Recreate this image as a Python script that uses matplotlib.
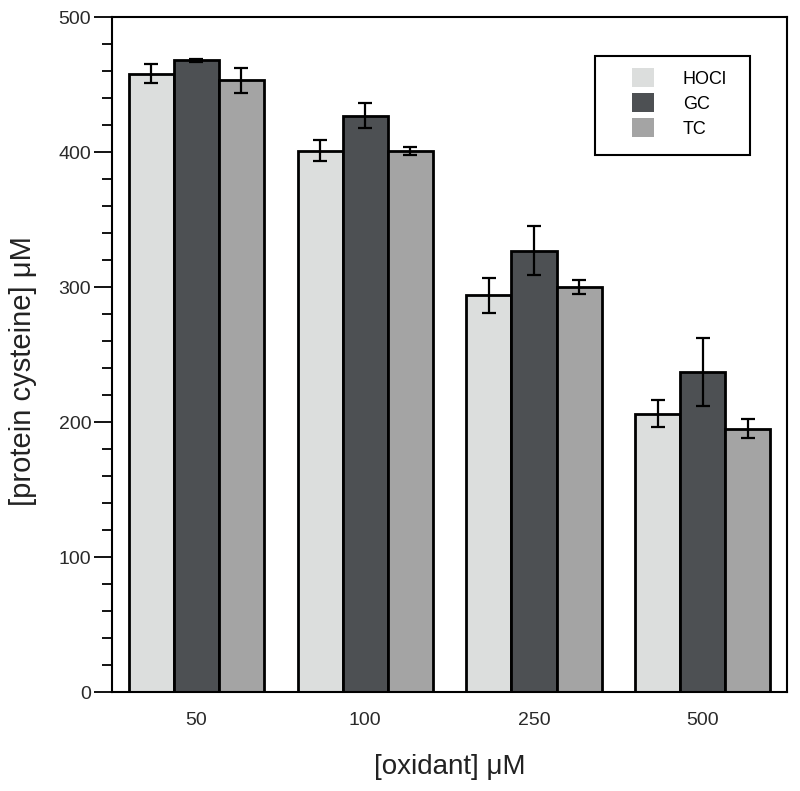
import numpy as np
import matplotlib.pyplot as plt
from matplotlib.patches import Patch, Rectangle
from matplotlib.ticker import MultipleLocator

plt.rcParams['font.family'] = ['Liberation Sans', 'DejaVu Sans']

# data
oxidant = ["50", "100", "250", "500"]
series = ["HOCl", "GC", "TC"]
hocl = [458, 401, 294, 206]
gc = [468, 427, 327, 237]
tc = [453, 401, 300, 195]
hocl_err = [7, 8, 13, 10]
gc_err = [1, 9, 18, 25]
tc_err = [9, 3, 5, 7]

colors = ["#dcdedd", "#4d5053", "#a4a4a4"]

fig = plt.figure(figsize=(8, 7.91), dpi=100)
ax = fig.add_axes([0.14, 0.125, 0.844, 0.8535])

x = np.arange(len(oxidant)) + 0.5
w = 0.267
values = [hocl, gc, tc]
errors = [hocl_err, gc_err, tc_err]
for i in range(3):
    ax.bar(x + (i - 1) * w, values[i], w, color=colors[i], edgecolor="black",
           linewidth=2, zorder=2)
    ax.errorbar(x + (i - 1) * w, values[i], yerr=errors[i], fmt="none",
                ecolor="black", elinewidth=1.6, capsize=5, capthick=1.6, zorder=3)

ax.set_xlim(0, 4)
ax.set_ylim(0, 500)
ax.set_xticks(x)
ax.set_xticklabels(oxidant)
ax.tick_params(axis="x", length=0, pad=14, labelsize=14, labelcolor="#2a2a2a")
ax.yaxis.set_major_locator(MultipleLocator(100))
ax.yaxis.set_minor_locator(MultipleLocator(20))
ax.tick_params(axis="y", which="major", length=13, width=1.3, labelsize=14,
               labelcolor="#2a2a2a", pad=2)
ax.tick_params(axis="y", which="minor", length=7, width=1.3)
for s in ax.spines.values():
    s.set_linewidth(1.5)

ax.set_xlabel("[oxidant] \u03bcM", fontsize=20, labelpad=18, color="#222222")
ax.set_ylabel("[protein cysteine] \u03bcM", fontsize=21, color="#222222")
ax.yaxis.set_label_coords(-0.111, 0.475)

# legend frame drawn separately so the padding can be uneven like the original
ax.add_patch(Rectangle((0.7156, 0.7956), 0.229, 0.1464, transform=ax.transAxes,
                       facecolor="white", edgecolor="black", linewidth=1.5,
                       zorder=4))
handles = [Patch(facecolor=c, edgecolor="none") for c in colors]
leg = ax.legend(handles, series, loc="upper left",
                bbox_to_anchor=(0.770, 0.924), fontsize=13, frameon=False,
                handlelength=1.22, handleheight=1.22, handletextpad=1.6,
                labelspacing=0.3, borderpad=0, borderaxespad=0)
leg.set_zorder(5)

fig.savefig("out.png", dpi=100)
